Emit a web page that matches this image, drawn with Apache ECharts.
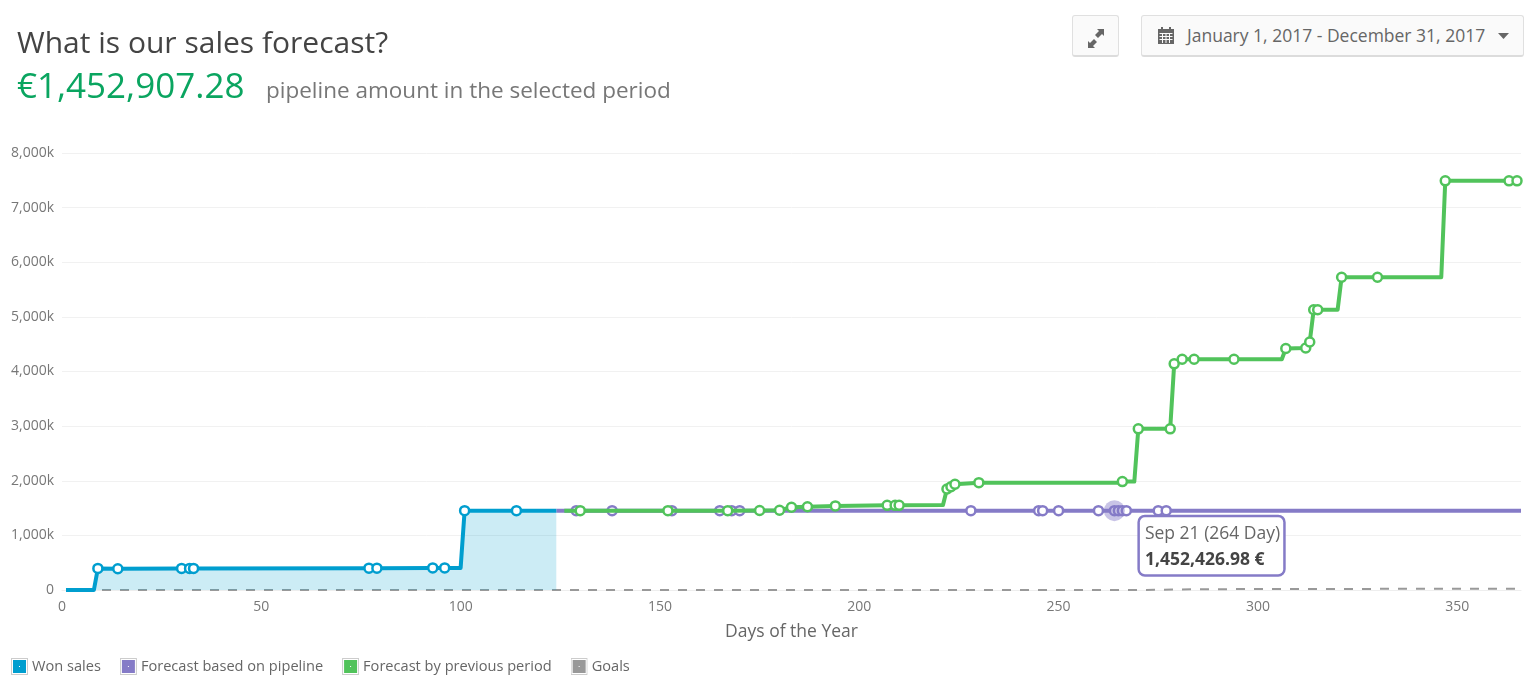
<!DOCTYPE html>
<html><head><meta charset="utf-8">
<script src="https://cdn.jsdelivr.net/npm/echarts@6/dist/echarts.min.js"></script>
<style>
html,body{margin:0;padding:0;background:#fff;font-family:"Open Sans",sans-serif;overflow:hidden}
#chart{position:absolute;left:0;top:0;width:1540px;height:684px}
.t{position:absolute;white-space:nowrap;z-index:2}
.btn{position:absolute;z-index:2;box-sizing:border-box;background:#fafafa;border:1px solid #e0e0e0;border-bottom:2px solid #dcdcdc;border-radius:3px;height:42px;top:15px}
</style></head><body>
<div class="t" style="left:17px;top:21px;font-size:30px;color:#444">What is our sales forecast?</div>
<div class="t" style="left:17px;top:61px;font-size:35px;color:#0aa560">€1,452,907.28</div>
<div class="t" style="left:266px;top:74px;font-size:22.5px;color:#777">pipeline amount in the selected period</div>
<div class="btn" style="left:1072px;width:47px">
<svg width="45" height="40" viewBox="0 0 45 40"><g fill="#666"><path d="M15 32l0-7 2 2 4-4 3 3-4 4 2 2z"/><path d="M31 14l0 7-2-2-4 4-3-3 4-4-2-2z" transform="translate(0 -1)"/></g></svg></div>
<div class="btn" style="left:1141px;width:383px">
<svg style="position:absolute;left:15px;top:10px" width="18" height="19" viewBox="0 0 18 19"><path fill="#666" d="M1 3h3V1h2v2h6V1h2v2h3v15H1z"/><g stroke="#fafafa" stroke-width="1"><path d="M2.500 7.500h13M2.500 10.500h13M2.500 13.500h13M5.500 7v10M9 7v10M12.500 7v10"/></g></svg>
<span style="position:absolute;left:45px;top:7px;font-size:17.5px;color:#666;white-space:nowrap">January 1, 2017 - December 31, 2017</span>
<svg style="position:absolute;left:356px;top:17px" width="11" height="7"><path d="M0 0h11L5.500 6z" fill="#666"/></svg>
</div>
<div id="chart"></div>
<script>
const seriesNames = ['Won sales','Forecast based on pipeline','Forecast by previous period','Goals'];
const colors = ['#009ecf','#857bc7','#51c35b','#999999'];
const xTicksMax = 366;

const wonDays   = [1,8,9,14,30,32,33,77,79,93,96,100,101,114,124];
const wonValues = [0,0,395000,390000,395000,395000,395000,400000,400000,405000,405000,405000,1452000,1452000,1452000];
const wonMarked = [9,14,30,32,33,77,79,93,96,101,114];

const pipeDays   = [124,129,138,153,165,168,170,228,245,246,250,260,264,265,266,267,275,277,366];
const pipeValues = [1452000,1452000,1452000,1452000,1452000,1452000,1452000,1452427,1452427,1452427,1452427,1452427,1452427,1452427,1452427,1452427,1452427,1452427,1452427];
const pipeMarked = [129,138,153,165,168,170,228,245,246,250,260,264,265,266,267,275,277];

const prevDays   = [126,130,152,167,175,180,183,187,194,207,209,210,221,222,223,224,230,265,266,269,270,278,279,281,284,294,306,307,312,313,314,315,320,321,330,346,347,363,365];
const prevValues = [1452000,1452000,1452000,1452000,1455000,1460000,1515000,1525000,1540000,1550000,1550000,1550000,1555000,1850000,1890000,1935000,1965000,1965000,1985000,1985000,2950000,2950000,4140000,4225000,4225000,4225000,4225000,4420000,4430000,4540000,5130000,5130000,5130000,5725000,5725000,5725000,7490000,7490000,7490000];
const prevMarked = [130,152,167,175,180,183,187,194,207,209,210,222,223,224,230,266,270,278,279,281,284,294,307,312,313,314,315,321,330,347,363,365];

const goalDays   = [1,270,285,365];
const goalValues = [0,0,15000,25000];

const focusDay = 264, focusValue = 1452426.98;
const focusTitle = 'Sep 21 (264 Day)', focusAmount = '1,452,426.98 €';

const build = (days, vals, marked) => days.map((d,i)=>({value:[d,vals[i]],symbol:marked.includes(d)?'circle':'none'}));
const lineBase = (i) => ({
  name:seriesNames[i], type:'line', smooth:false, symbolSize:9, showSymbol:true, animation:false, clip:false,
  lineStyle:{color:colors[i],width:4,join:'round'},
  itemStyle:{color:'#fff',borderColor:colors[i],borderWidth:2.5},
  emphasis:{disabled:true}
});
const legendIcon = c => 'image://data:image/svg+xml,'+encodeURIComponent(
 `<svg xmlns="http://www.w3.org/2000/svg" width="17" height="17"><rect x=".5" y=".5" width="16" height="16" fill="#fff" stroke="#ccc"/><rect x="2" y="2" width="13" height="13" fill="${c}"/><rect x="8" y="8" width="1" height="1" fill="#fff"/></svg>`);

const chart = echarts.init(document.getElementById('chart'),null,{renderer:'canvas'});
chart.setOption({
  backgroundColor:'transparent',
  textStyle:{fontFamily:'"Open Sans",sans-serif'},
  animation:false,
  grid:{left:62,right:19,top:153,bottom:94},
  legend:{left:11,top:658,itemWidth:17,itemHeight:17,itemGap:19,padding:0,selectedMode:false,
    textStyle:{color:'#666',fontSize:14.6,padding:[0,0,0,-1]},
    data:seriesNames.map((n,i)=>({name:n,icon:legendIcon(colors[i])}))},
  xAxis:{type:'value',min:0,max:xTicksMax,interval:50,
    name:'Days of the Year',nameLocation:'middle',nameGap:33,
    nameTextStyle:{color:'#666',fontSize:17.5},
    axisLine:{show:true,lineStyle:{color:'#eee'}},axisTick:{show:false},splitLine:{show:false},
    axisLabel:{color:'#777',fontSize:14,margin:10,formatter:v=>v===xTicksMax?'':String(v)}},
  yAxis:{type:'value',min:0,max:8000000,interval:1000000,
    axisLine:{show:false},axisTick:{show:false},
    splitLine:{lineStyle:{color:'#f1f1f1',width:1}},
    axisLabel:{color:'#777',fontSize:14,margin:8,
      formatter:v=>v===0?'0':(v/1000).toLocaleString('en-US')+'k'}},
  series:[
    Object.assign(lineBase(3),{data:goalDays.map((d,i)=>[d,goalValues[i]]),symbol:'none',
      lineStyle:{color:colors[3],width:2,type:[9,9]},z:2}),
    Object.assign(lineBase(1),{data:build(pipeDays,pipeValues,pipeMarked),z:3,
      markPoint:{silent:true,animation:false,data:[{coord:[focusDay,focusValue]}],symbol:'circle',symbolSize:21,
        itemStyle:{color:colors[1],opacity:0.45,borderWidth:0},
        label:{show:true,position:[36,17],opacity:1,formatter:`{a|${focusTitle}}\n{b|${focusAmount}}`,
          backgroundColor:'#fff',borderColor:colors[1],borderWidth:2.5,borderRadius:5,padding:[4,3,1,5],
          rich:{a:{fontSize:17.5,color:'#666',lineHeight:26},b:{fontSize:17.5,fontWeight:'bold',color:'#444',lineHeight:26}}}}}),
    Object.assign(lineBase(2),{data:build(prevDays,prevValues,prevMarked),z:4}),
    Object.assign(lineBase(0),{data:build(wonDays,wonValues,wonMarked),z:5,
      areaStyle:{color:colors[0],opacity:0.2}})
  ]
});
</script></body></html>
